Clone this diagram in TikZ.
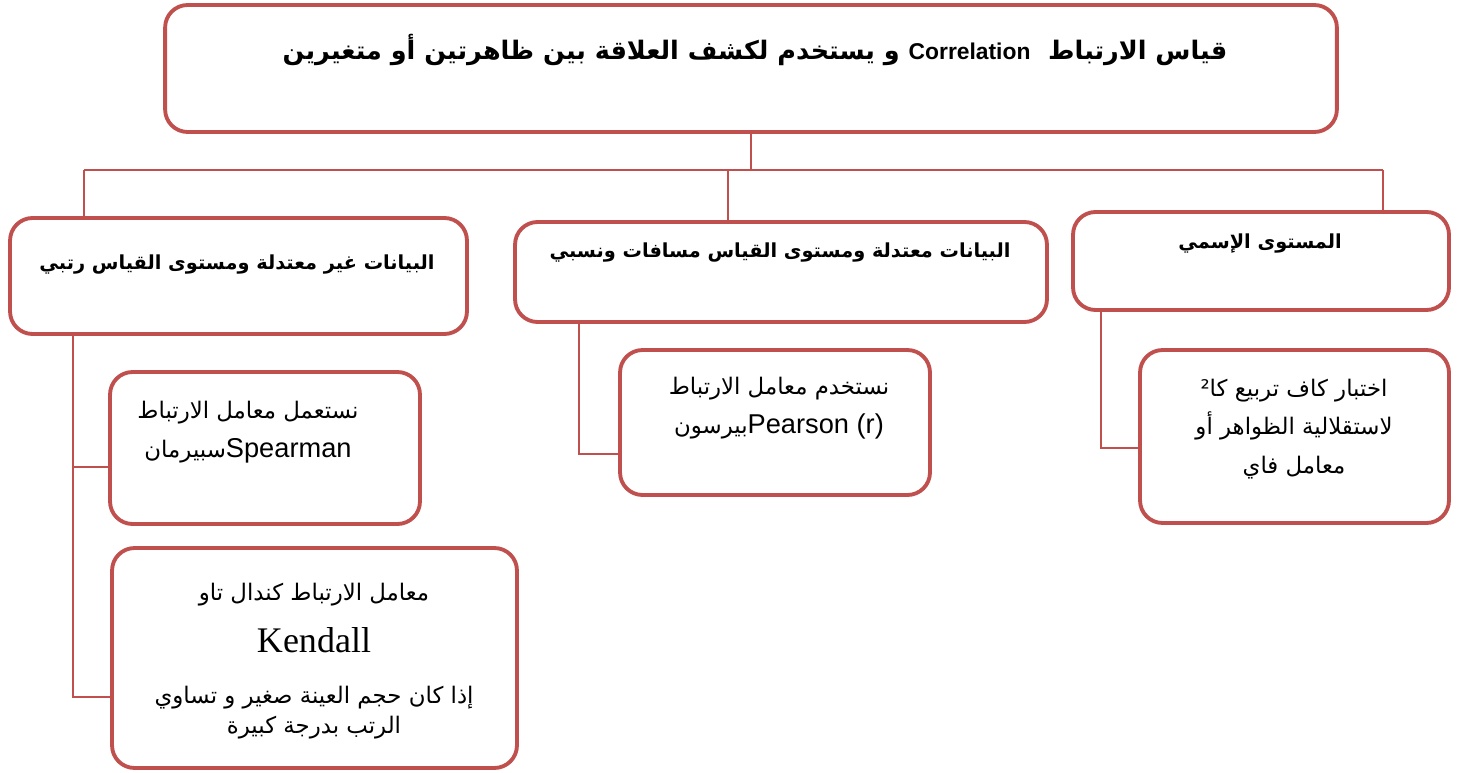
\documentclass[tikz,border=0pt]{standalone}
\usepackage{fontspec}
\setmainfont{Liberation Sans}
\newfontfamily\arabicfont[Script=Arabic]{DejaVu Sans}
\newfontfamily\latinf{Liberation Sans}
\newfontfamily\serifl{Liberation Serif}
\TeXXeTstate=1
\usepackage{xcolor}
\usepackage{tikz}
\usetikzlibrary{positioning}
\definecolor{boxred}{HTML}{C0504D}
\newcommand{\latinword}[1]{{\latinf\fontsize{15.5}{22}\selectfont #1}}
\tikzset{
    box/.style={draw=boxred, line width=2.2pt, rounded corners=0.45cm, fill=white},
    link/.style={draw=boxred, line width=0.8pt},
    headtxt/.style={font=\fontsize{11}{14}\selectfont\arabicfont\bfseries, inner sep=0pt},
    leaftxt/.style={font=\fontsize{13}{22}\selectfont\arabicfont, align=center, inner sep=0pt}
}

\begin{document}
\begin{tikzpicture}[x=0.02cm, y=-0.02cm]
    \useasboundingbox (0,0) rectangle (1459,773);
    % boxes
    \node (top) [box, minimum width=23.44cm, minimum height=2.54cm] at (751,68.5) {};
    \node (ordinal) [box, minimum width=9.14cm, minimum height=2.32cm] at (238.5,276) {};
    \node (ratio) [box, minimum width=10.64cm, minimum height=2.0cm] at (781,272) {};
    \node (nominal) [box, minimum width=7.52cm, minimum height=1.96cm] at (1261,261) {};
    \node (spearman) [box, minimum width=6.2cm, minimum height=3.04cm] at (265,448) {};
    \node (kendall) [box, minimum width=8.1cm, minimum height=4.4cm] at (314.5,658) {};
    \node (pearson) [box, minimum width=6.2cm, minimum height=2.9cm] at (775,422.5) {};
    \node (chisq) [box, minimum width=6.18cm, minimum height=3.46cm] at (1294.5,436.5) {};

    % texts
    \node (topTxt) [headtxt, font=\fontsize{14.5}{18}\selectfont\arabicfont\bfseries] at (755,50)
        {\beginR قياس الارتباط \ \beginL{\latinf\fontsize{13}{16}\selectfont Correlation}\endL{} و يستخدم لكشف العلاقة بين ظاهرتين أو متغيرين\endR};
    \node (ordinalTxt) [headtxt] at (237,265) {\beginR البيانات غير معتدلة ومستوى القياس رتبي\endR};
    \node (ratioTxt) [headtxt] at (780,253) {\beginR البيانات معتدلة ومستوى القياس مسافات ونسبي\endR};
    \node (nominalTxt) [headtxt] at (1260,244) {\beginR المستوى الإسمي\endR};
    \node (spearmanTxt) [leaftxt] at (248,432) {\beginR نستعمل معامل الارتباط\endR\\
        \beginR\beginL\latinword{Spearman}\endL سبيرمان\endR};
    \node (pearsonTxt) [leaftxt] at (779,408) {\beginR نستخدم معامل الارتباط\endR\\
        \beginR\beginL\latinword{Pearson (r)}\endL بيرسون\endR};
    \node (chisqTxt) [leaftxt] at (1294,429) {\beginR اختبار كاف تربيع كا²\endR\\
        \beginR لاستقلالية الظواهر أو\endR\\
        \beginR معامل فاي\endR};
    \node (kendallTxt) [leaftxt] at (314,661) {\beginR معامل الارتباط كندال تاو\endR\\[8pt]
        {\serifl\fontsize{20.5}{24}\selectfont Kendall}\\[7pt]
        \beginR إذا كان حجم العينة صغير و تساوي\endR\\[-5pt]
        \beginR الرتب بدرجة كبيرة\endR};

    % connectors
    \coordinate (busL) at (84,170);
    \coordinate (busM) at (728,170);
    \coordinate (busR) at (1383,170);
    \draw [link] (top.south) -- (top.south |- busM);
    \draw [link] (busL) -- (busR);
    \draw [link] (busL) -- (busL |- ordinal.north);
    \draw [link] (busM) -- (busM |- ratio.north);
    \draw [link] (busR) -- (busR |- nominal.north);

    \coordinate (trunkL) at (73,334);
    \coordinate (spIn) at ([yshift=-0.38cm]spearman.west);
    \coordinate (keIn) at ([yshift=-0.78cm]kendall.west);
    \draw [link] (trunkL) |- (keIn);
    \draw [link] (spIn) -- (spIn -| trunkL);

    \coordinate (trunkM) at (579,322);
    \coordinate (peIn) at ([yshift=-0.63cm]pearson.west);
    \draw [link] (trunkM) |- (peIn);

    \coordinate (trunkR) at (1101,310);
    \coordinate (chIn) at ([yshift=-0.23cm]chisq.west);
    \draw [link] (trunkR) |- (chIn);
\end{tikzpicture}
\end{document}
